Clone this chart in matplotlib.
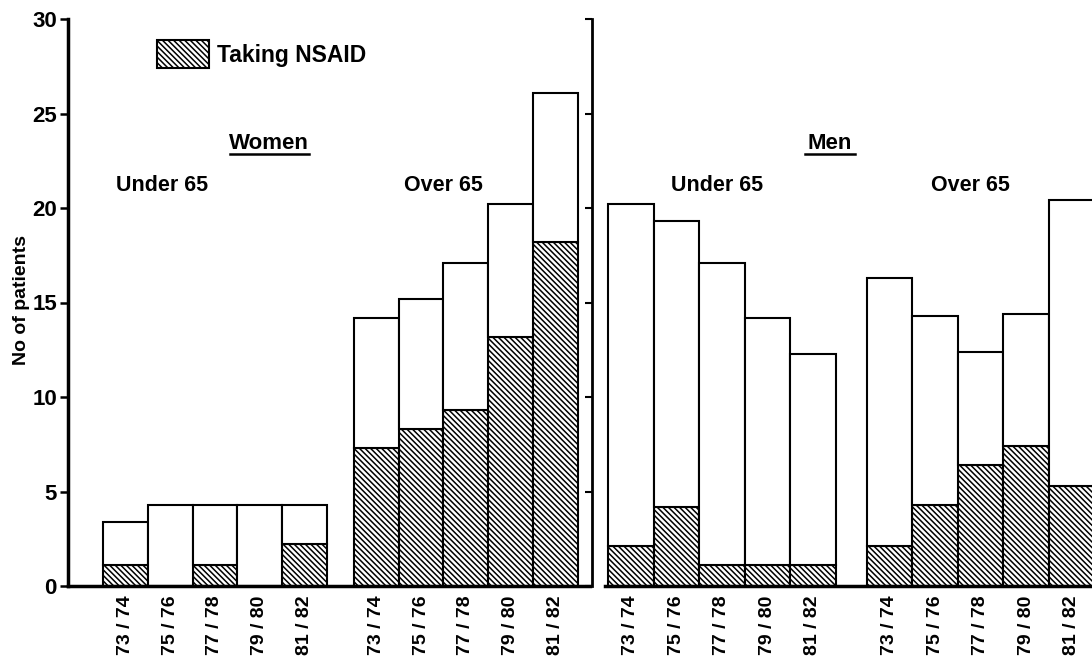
import matplotlib.pyplot as plt
from matplotlib.patches import Patch
import numpy as np

plt.rcParams['font.family'] = ['Liberation Sans', 'DejaVu Sans']
plt.rcParams['font.weight'] = 'bold'
plt.rcParams['hatch.linewidth'] = 1.1

years = ['73 / 74', '75 / 76', '77 / 78', '79 / 80', '81 / 82']

# women, totals and number taking NSAID
women_under_total = [3.4, 4.3, 4.3, 4.3, 4.3]
women_under_nsaid = [1.1, 0, 1.1, 0, 2.2]
women_over_total = [14.2, 15.2, 17.1, 20.2, 26.1]
women_over_nsaid = [7.3, 8.3, 9.3, 13.2, 18.2]

# men
men_under_total = [20.2, 19.3, 17.1, 14.2, 12.3]
men_under_nsaid = [2.1, 4.2, 1.1, 1.1, 1.1]
men_over_total = [16.3, 14.3, 12.4, 14.4, 20.4]
men_over_nsaid = [2.1, 4.3, 6.4, 7.4, 5.3]

HATCH = '\\' * 6
W, H = 1092, 657

fig = plt.figure(figsize=(W / 100, H / 100), dpi=100)
ax1 = fig.add_axes([68 / W, (H - 586) / H, 522 / W, 567 / H])
ax2 = fig.add_axes([592 / W, (H - 586) / H, 500 / W, 567 / H])


def stacked(ax, pos, total, nsaid):
    total = np.array(total)
    nsaid = np.array(nsaid)
    ax.bar(pos, nsaid, width=1.0, facecolor='white', edgecolor='black',
           hatch=HATCH, linewidth=1.5)
    ax.bar(pos, total - nsaid, bottom=nsaid, width=1.0, facecolor='white',
           edgecolor='black', linewidth=1.5)


pos_under = np.arange(5)
pos_w_over = 5.6 + np.arange(5)
pos_m_over = 5.69 + np.arange(5)

stacked(ax1, pos_under, women_under_total, women_under_nsaid)
stacked(ax1, pos_w_over, women_over_total, women_over_nsaid)
stacked(ax2, pos_under, men_under_total, men_under_nsaid)
stacked(ax2, pos_m_over, men_over_total, men_over_nsaid)

for ax in (ax1, ax2):
    ax.set_ylim(0, 30)
    ax.spines['top'].set_visible(False)
    ax.spines['right'].set_visible(False)
    ax.spines['bottom'].set_linewidth(2.5)
    ax.tick_params(axis='x', length=0, pad=7, labelsize=14, labelrotation=90)
    ax.set_facecolor('none')

ax1.set_xlim(-1.281, 10.371)
ax2.set_xlim(-0.852, 10.137)
ax2.spines['bottom'].set_bounds(-0.57, 10.137)

ax1.set_xticks(np.concatenate([pos_under, pos_w_over]))
ax1.set_xticklabels(years + years, va='top')
ax2.set_xticks(np.concatenate([pos_under, pos_m_over]))
ax2.set_xticklabels(years + years, va='top')

ax1.spines['left'].set_linewidth(2.5)
ax1.set_yticks(range(0, 31, 5))
ax1.tick_params(axis='y', length=6, width=1.8, labelsize=16, pad=2)
ax1.set_ylabel('No of patients', fontsize=14, fontweight='bold')
ax1.yaxis.set_label_coords(-0.073, 0.505)

ax2.spines['left'].set_linewidth(2)
ax2.set_yticks(range(0, 31, 5))
ax2.tick_params(axis='y', length=5, width=1.5, labelleft=False)

# group labels
ax1.text(3.2, 23.4, 'Women', ha='center', va='center', fontsize=16)
ax1.plot([2.33, 4.09], [22.85, 22.85], color='black', lw=1.8)
ax1.text(0.82, 21.2, 'Under 65', ha='center', va='center', fontsize=15.5)
ax1.text(7.11, 21.2, 'Over 65', ha='center', va='center', fontsize=15.5)

ax2.text(4.38, 23.4, 'Men', ha='center', va='center', fontsize=16)
ax2.plot([3.83, 4.93], [22.85, 22.85], color='black', lw=1.8)
ax2.text(1.9, 21.2, 'Under 65', ha='center', va='center', fontsize=15.5)
ax2.text(7.46, 21.2, 'Over 65', ha='center', va='center', fontsize=15.5)

handle = Patch(facecolor='white', edgecolor='black', hatch=HATCH, linewidth=1.5)
ax1.legend(handles=[handle], labels=['Taking NSAID'], loc='upper left',
           bbox_to_anchor=(0.17, 0.963), frameon=False, fontsize=16.5,
           handlelength=2.3, handleheight=1.5, borderpad=0,
           borderaxespad=0, handletextpad=0.35)

fig.savefig('out.png', dpi=100)
